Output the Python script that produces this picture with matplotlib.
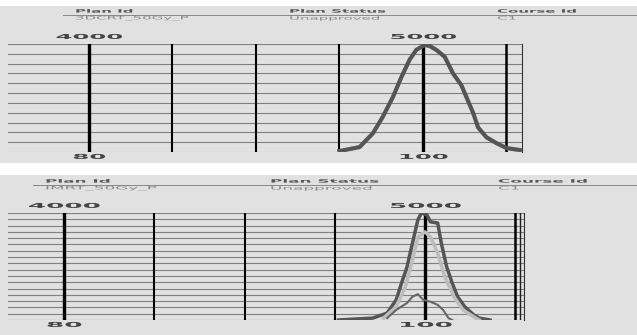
import numpy as np
import matplotlib.pyplot as plt
from matplotlib.patches import Rectangle
from matplotlib.lines import Line2D
from matplotlib.patheffects import AbstractPathEffect
from matplotlib.transforms import Affine2D, blended_transform_factory

# data (x = dose %, y = relative volume)
dose_3d = [95.0, 96.2, 97.0, 97.6, 98.2, 98.7, 99.2, 99.6, 100.1, 100.4, 100.8, 101.3,
           101.8, 102.3, 102.6, 103.0, 103.3, 103.8, 104.4, 105.0, 105.8]
vol_3d = [1, 5, 19, 36, 56, 76, 94, 104, 109, 108, 104, 97, 80, 68, 56, 40, 25, 15, 9, 4, 2]

dose_imrt_a = [95.2, 97.1, 97.9, 98.4, 98.7, 99.0, 99.3, 99.6, 99.8, 100.1, 100.3, 100.7, 100.9,
               101.2, 101.5, 101.8, 102.2, 102.7, 103.0, 103.6]
vol_imrt_a = [0, 3, 11, 32, 59, 84, 122, 159, 170, 167, 156, 154, 122, 84, 59, 37, 21, 8, 3, 0]

dose_imrt_b = [97.7, 98.4, 98.9, 99.3, 99.6, 100.0, 100.3, 100.7, 101.1, 101.6, 102.1, 102.7, 103.0]
vol_imrt_b = [3, 21, 52, 95, 132, 140, 132, 106, 68, 37, 16, 5, 0]

dose_imrt_c = [97.9, 98.4, 99.0, 99.3, 99.6, 99.9, 100.3, 100.7, 101.0, 101.3, 101.5]
vol_imrt_c = [3, 16, 27, 37, 41, 32, 29, 24, 16, 3, 0]

pct_ticks = [80, 100]
cgy_ticks = [4000, 5000]
plan_ids = ['3DCRT_50Gy_P', 'IMRT_50Gy_P']
status = 'Unapproved'
course = 'C1'

W, H = 637, 335
fig = plt.figure(figsize=(6.37, 3.35), dpi=100)
fig.patch.set_facecolor('white')


class Stretch(AbstractPathEffect):
    # the screenshot is squashed vertically, so text looks wide and flat
    def __init__(self, sx, sy, anchor='center'):
        super().__init__()
        self.sx, self.sy, self.anchor = sx, sy, anchor

    def draw_path(self, renderer, gc, tpath, affine, rgbFace=None):
        pts = affine.transform(tpath.vertices)
        if len(pts) == 0:
            return
        if self.anchor == 'left':
            cx = pts[:, 0].min()
        else:
            cx = (pts[:, 0].min() + pts[:, 0].max()) / 2
        cy = (pts[:, 1].min() + pts[:, 1].max()) / 2
        st = Affine2D().translate(-cx, -cy).scale(self.sx, self.sy).translate(cx, cy)
        renderer.draw_path(gc, tpath, affine + st, rgbFace)


def fx(px):
    return px / W

def fy(py):
    return 1 - py / H

# gray panels, behind the axes
fig.patches.append(Rectangle((0, fy(163)), 1, fy(6) - fy(163), transform=fig.transFigure,
                             facecolor='#e1e1e1', edgecolor='none', zorder=-5))
fig.patches.append(Rectangle((0, 0), 1, fy(175), transform=fig.transFigure,
                             facecolor='#e1e1e1', edgecolor='none', zorder=-5))

def header(y_line, xs, plan, sx):
    fig.add_artist(Line2D([fx(xs[0] - 12), 1], [fy(y_line), fy(y_line)], color='#888', lw=0.7))
    for x, a, b in zip(xs, ['Plan Id', 'Plan Status', 'Course Id'], [plan, status, course]):
        fig.text(fx(x), fy(y_line - 3.3), a, fontsize=4.5, fontweight='bold', color='#555',
                 va='center', path_effects=[Stretch(sx, 0.75, 'left')])
        fig.text(fx(x), fy(y_line + 3.6), b, fontsize=4.5, color='#888',
                 va='center', path_effects=[Stretch(sx, 0.75, 'left')])

header(15, [75, 289, 497], plan_ids[0], 2.4)
header(185, [45, 270, 498], plan_ids[1], 2.7)

def panel(rect, xlim, ylim, nlines, hpx, sx, extra_line=None):
    ax = fig.add_axes(rect)
    ax.set_facecolor('#e1e1e1')
    ax.set_xlim(*xlim)
    ax.set_ylim(*ylim)
    for y in np.linspace(ylim[0], ylim[1], nlines + 1):
        ax.axhline(y, color='#808080', lw=0.8, zorder=1)
    for x, w in [(80, 2.4), (85, 1.5), (90, 1.5), (95, 1.5), (100, 2.4), (105, 1.8)]:
        ax.axvline(x, color='black', lw=w, zorder=1)
    if extra_line:
        ax.axvline(extra_line, color='#222', lw=1.0, zorder=1)
    for s in ax.spines.values():
        s.set_visible(False)
    ax.spines['right'].set_visible(True)
    ax.spines['right'].set_color('#333')
    ax.set_xticks([])
    ax.set_yticks([])
    tr = blended_transform_factory(ax.transData, ax.transAxes)
    for p, c in zip(pct_ticks, cgy_ticks):
        ax.text(p, -5 / hpx, str(p), transform=tr, ha='center', va='center', fontsize=7,
                fontweight='bold', color='#444', path_effects=[Stretch(sx, 0.7)])
        ax.text(c / 50, 1 + 7 / hpx, str(c), transform=tr, ha='center', va='center', fontsize=7,
                fontweight='bold', color='#444', path_effects=[Stretch(sx, 0.7)])
    return ax

ax1 = panel([fx(8), fy(152), fx(514), (152 - 44) / H], (75.15, 105.93), (0, 110), 11, 108, 2.5)
ax1.plot(dose_3d, vol_3d, color='#555', lw=3, zorder=3)

ax2 = panel([fx(8), fy(320), fx(516), (320 - 213) / H], (76.9, 105.48), (0, 170), 17, 107, 2.7,
            105.25)
ax2.plot(dose_imrt_a, vol_imrt_a, color='#555', lw=2.5, zorder=3)
ax2.plot(dose_imrt_b, vol_imrt_b, color='#bdbdbd', lw=2.5, zorder=4)
ax2.plot(dose_imrt_c, vol_imrt_c, color='#666', lw=1.5, zorder=5)

fig.savefig('out.png', dpi=100)
